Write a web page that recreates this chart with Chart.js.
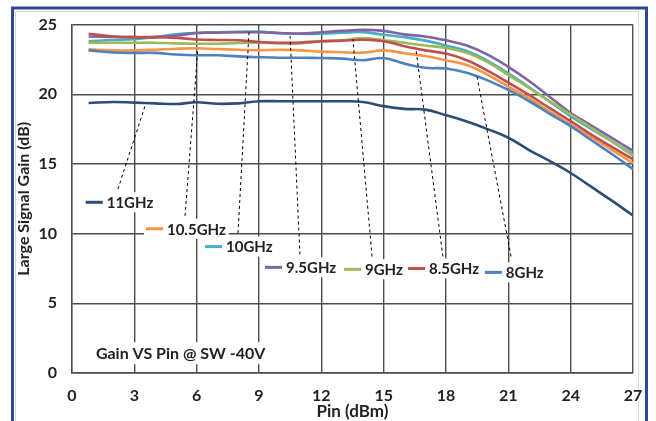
<!DOCTYPE html>
<html>
<head>
<meta charset="utf-8">
<script src="https://cdn.jsdelivr.net/npm/chart.js@4/dist/chart.umd.min.js"></script>
<style>
  html, body { margin: 0; padding: 0; background: #fff; }
  #wrap { position: relative; width: 656px; height: 421px; }
</style>
</head>
<body>
<div id="wrap"><canvas id="chart" width="656" height="421"></canvas></div>
<script>
// Pin (dBm) sample points shared by every curve
const pin = [0.8, 2, 3, 4, 5, 6, 7, 8, 9, 10, 11, 12, 13, 14, 15, 16, 17, 18, 19, 20, 21, 22, 23, 24, 25, 26, 27];

// large signal gain (dB)
const gain8GHz   = [23.15, 23.0, 22.97, 22.97, 22.85, 22.8, 22.8, 22.72, 22.66, 22.62, 22.62, 22.6, 22.56, 22.44, 22.6, 22.2, 21.9, 21.85, 21.55, 21.0, 20.31, 19.5, 18.6, 17.71, 16.7, 15.7, 14.63];
const gain8p5GHz = [24.34, 24.15, 24.1, 24.1, 24.05, 23.93, 23.9, 23.88, 23.75, 23.7, 23.72, 23.8, 23.85, 23.91, 23.8, 23.45, 23.15, 22.92, 22.44, 21.7, 20.84, 19.95, 19.0, 18.07, 17.1, 16.2, 15.34];
const gain9GHz   = [23.7, 23.7, 23.7, 23.7, 23.65, 23.63, 23.63, 23.68, 23.7, 23.65, 23.65, 23.8, 23.87, 24.03, 23.87, 23.7, 23.5, 23.32, 22.97, 22.3, 21.38, 20.45, 19.5, 18.54, 17.6, 16.6, 15.58];
const gain9p5GHz = [24.15, 24.12, 24.1, 24.1, 24.2, 24.4, 24.42, 24.45, 24.45, 24.4, 24.35, 24.45, 24.55, 24.62, 24.55, 24.3, 24.15, 23.87, 23.5, 22.85, 21.97, 20.95, 19.8, 18.66, 17.75, 16.85, 15.94];
const gain10GHz  = [23.8, 23.9, 23.95, 24.1, 24.3, 24.4, 24.45, 24.48, 24.5, 24.38, 24.34, 24.35, 24.42, 24.46, 24.27, 24.1, 23.85, 23.5, 23.1, 22.4, 21.5, 20.5, 19.45, 18.42, 17.5, 16.6, 15.7];
const gain10p5GHz= [23.22, 23.15, 23.15, 23.2, 23.27, 23.3, 23.25, 23.2, 23.15, 23.2, 23.15, 23.06, 23.02, 22.99, 23.15, 22.95, 22.75, 22.44, 22.1, 21.4, 20.55, 19.7, 18.75, 17.83, 16.9, 16.0, 15.06];
const gain11GHz  = [19.37, 19.45, 19.4, 19.35, 19.3, 19.43, 19.32, 19.35, 19.5, 19.5, 19.5, 19.5, 19.5, 19.45, 19.15, 18.95, 18.9, 18.5, 18.05, 17.5, 16.88, 16.0, 15.2, 14.35, 13.35, 12.35, 11.3];

const seriesNames = ["8GHz", "8.5GHz", "9GHz", "9.5GHz", "10GHz", "10.5GHz", "11GHz"];
const seriesData = [gain8GHz, gain8p5GHz, gain9GHz, gain9p5GHz, gain10GHz, gain10p5GHz, gain11GHz];
const seriesColors = ["#4F81BD", "#C0504D", "#9BBB59", "#8064A2", "#4BACC6", "#F79646", "#2C4D75"];

const xTicks = [0, 3, 6, 9, 12, 15, 18, 21, 24, 27];
const yTicks = [0, 5, 10, 15, 20, 25];

const FONT = "Lato, 'Open Sans', sans-serif";
const TEXT = "#222";

// label boxes with dashed leaders, placed in data units
// label: [pin, gain] of the swatch start, from: leader foot, to: pin where the leader meets the curve
const callouts = [
  { series: 6, label: [0.66, 12.25], from: [2.21, 13.19], to: 3.56 },
  { series: 5, label: [3.56, 10.35], from: [5.44, 11.27], to: 6.06 },
  { series: 4, label: [6.4, 9.07],   from: [7.99, 10.05], to: 8.52 },
  { series: 3, label: [9.29, 7.58],  from: [10.97, 8.5],  to: 10.49 },
  { series: 2, label: [13.09, 7.44], from: [14.44, 8.36], to: 13.52 },
  { series: 1, label: [16.17, 7.5],  from: [17.85, 8.36], to: 16.55 },
  { series: 0, label: [19.87, 7.22], from: [21.13, 8.36], to: 19.49 },
];

function valueAt(values, p) {
  for (let i = 0; i < pin.length - 1; i++) {
    if (p >= pin[i] && p <= pin[i + 1]) {
      const t = (p - pin[i]) / (pin[i + 1] - pin[i]);
      return values[i] + t * (values[i + 1] - values[i]);
    }
  }
  return values[values.length - 1];
}

const framePlugin = {
  id: "frame",
  beforeDraw(chart) {
    const ctx = chart.ctx;
    ctx.save();
    ctx.fillStyle = "#fff";
    ctx.fillRect(0, 0, chart.width, chart.height);
    ctx.strokeStyle = "#d9d9d9";
    ctx.lineWidth = 1;
    ctx.strokeRect(15.5, 11.5, 623, 420);
    ctx.strokeStyle = "#2E479A";
    ctx.lineWidth = 3;
    ctx.strokeRect(12.5, 8, 634, 420);
    ctx.restore();
  },
};

const calloutPlugin = {
  id: "callouts",
  afterDatasetsDraw(chart) {
    const ctx = chart.ctx;
    const xs = chart.scales.x;
    const ys = chart.scales.y;
    ctx.save();

    // leaders
    ctx.strokeStyle = "#000";
    ctx.lineWidth = 1;
    ctx.setLineDash([3, 3]);
    callouts.forEach((c) => {
      ctx.beginPath();
      ctx.moveTo(xs.getPixelForValue(c.from[0]), ys.getPixelForValue(c.from[1]));
      ctx.lineTo(xs.getPixelForValue(c.to), ys.getPixelForValue(valueAt(seriesData[c.series], c.to)));
      ctx.stroke();
    });
    ctx.setLineDash([]);

    // label boxes
    ctx.font = "bold 15px " + FONT;
    ctx.textBaseline = "middle";
    callouts.forEach((c) => {
      const x = xs.getPixelForValue(c.label[0]);
      const y = ys.getPixelForValue(c.label[1]);
      const name = seriesNames[c.series];
      const w = ctx.measureText(name).width;
      ctx.fillStyle = "#fff";
      ctx.fillRect(x - 2, y - 10, 22 + w + 4, 20);
      ctx.strokeStyle = seriesColors[c.series];
      ctx.lineWidth = 3;
      ctx.beginPath();
      ctx.moveTo(x, y);
      ctx.lineTo(x + 17, y);
      ctx.stroke();
      ctx.fillStyle = TEXT;
      ctx.textAlign = "left";
      ctx.fillText(name, x + 21, y + 1);
    });

    // chart note
    ctx.font = "bold 16px " + FONT;
    const note = "Gain VS Pin @ SW -40V";
    const nx = xs.getPixelForValue(1.15);
    const ny = ys.getPixelForValue(1.42);
    const nw = ctx.measureText(note).width;
    ctx.fillStyle = "#fff";
    ctx.fillRect(nx - 3, ny - 11, nw + 6, 22);
    ctx.fillStyle = TEXT;
    ctx.fillText(note, nx, ny + 1);

    ctx.restore();
  },
};

const datasets = seriesNames.map((name, i) => ({
  label: name,
  data: pin.map((p, j) => ({ x: p, y: seriesData[i][j] })),
  borderColor: seriesColors[i],
  backgroundColor: seriesColors[i],
  borderWidth: 2.6,
  pointRadius: 0,
  tension: 0.4,
  fill: false,
}));

new Chart(document.getElementById("chart"), {
  type: "line",
  data: { datasets },
  options: {
    responsive: false,
    devicePixelRatio: 1,
    animation: false,
    layout: { padding: { top: 20, right: 23, left: 0, bottom: 0 } },
    plugins: {
      legend: { display: false },
      tooltip: { enabled: false },
    },
    scales: {
      x: {
        type: "linear",
        min: 0,
        max: 27,
        afterFit: (s) => { s.height = 48; },
        afterBuildTicks: (s) => { s.ticks = xTicks.map((v) => ({ value: v })); },
        ticks: { padding: 13, color: TEXT, font: { family: FONT, size: 16, weight: "bold" } },
        grid: { color: "#4d4d4d", lineWidth: 1.4, drawTicks: false },
        border: { color: "#4d4d4d", width: 1.4 },
        title: {
          display: true,
          text: "Pin (dBm)",
          color: TEXT,
          font: { family: FONT, size: 17, weight: "bold" },
          padding: { top: 0, bottom: -1 },
        },
      },
      y: {
        type: "linear",
        min: 0,
        max: 25,
        afterFit: (s) => { s.width = 72; },
        afterBuildTicks: (s) => { s.ticks = yTicks.map((v) => ({ value: v })); },
        ticks: { padding: 15, color: TEXT, font: { family: FONT, size: 16, weight: "bold" } },
        grid: { color: "#4d4d4d", lineWidth: 1.4, drawTicks: false },
        border: { color: "#4d4d4d", width: 1.4 },
        title: {
          display: true,
          text: "Large Signal Gain (dB)",
          color: TEXT,
          font: { family: FONT, size: 16, weight: "bold" },
          padding: { top: 14, bottom: 0 },
        },
      },
    },
  },
  plugins: [framePlugin, calloutPlugin],
});
</script>
</body>
</html>
